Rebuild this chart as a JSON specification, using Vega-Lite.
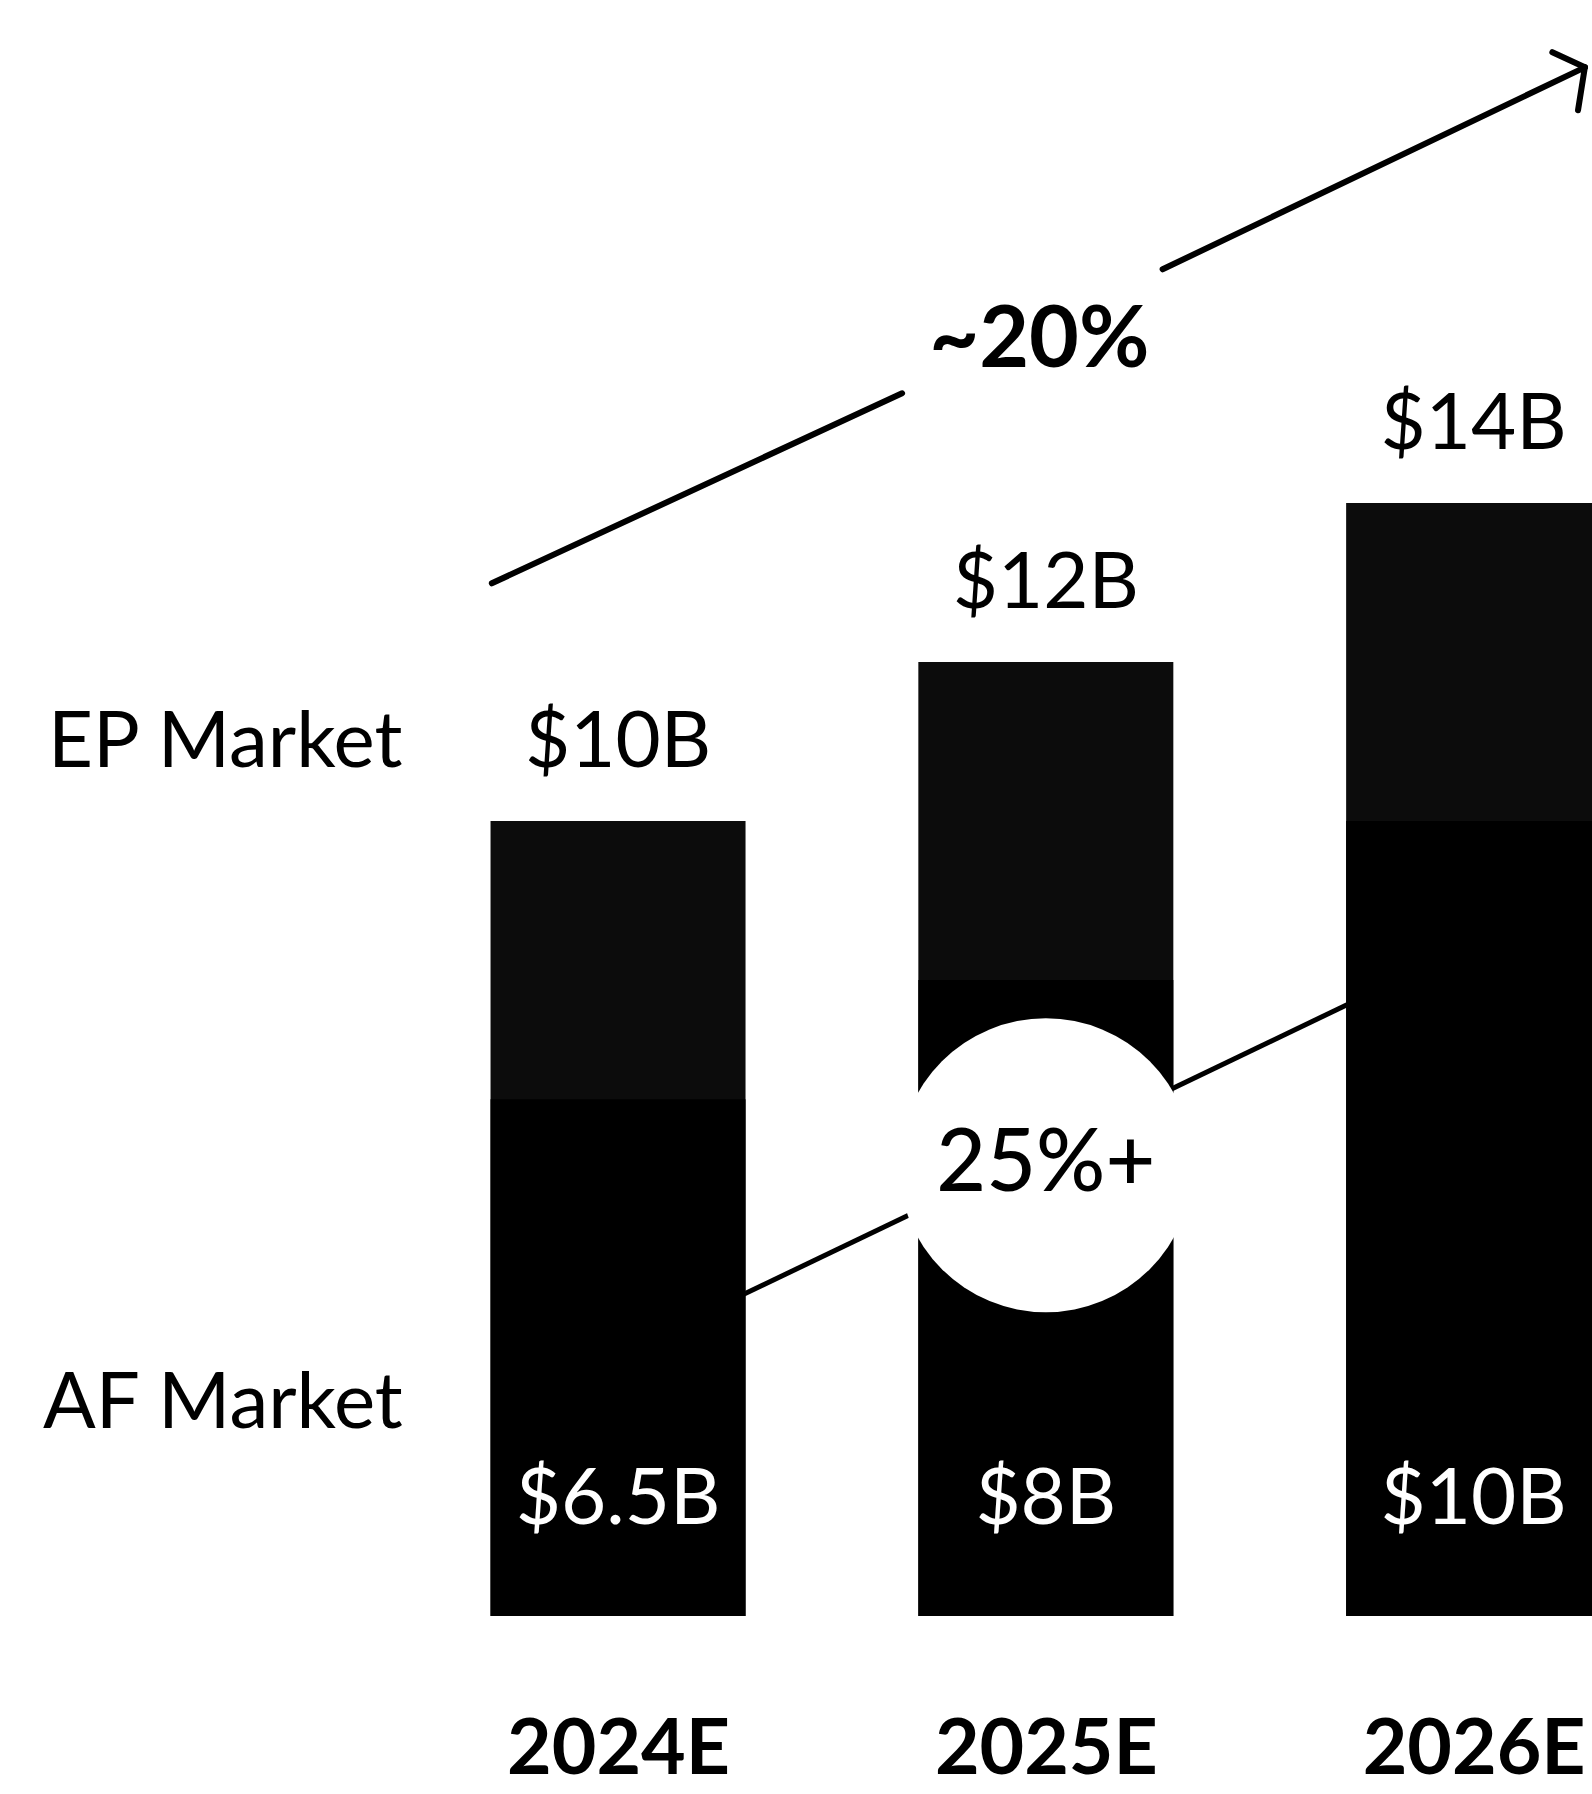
{
  "$schema": "https://vega.github.io/schema/vega-lite/v6.json",
  "width": 1592,
  "height": 1616,
  "autosize": {"type": "none"},
  "padding": {"left": 0, "top": 0, "right": 0, "bottom": 178},
  "background": "white",
  "config": {
    "font": "Lato",
    "view": {"stroke": null},
    "axis": {"grid": false, "domain": false, "ticks": false, "title": null}
  },
  "datasets": {
    "markets": [
      {"year": 2024, "ep": 10, "af": 6.5, "epLabel": "$10B", "afLabel": "$6.5B"},
      {"year": 2025, "ep": 12, "af": 8, "epLabel": "$12B", "afLabel": "$8B"},
      {"year": 2026, "ep": 14, "af": 10, "epLabel": "$14B", "afLabel": "$10B"}
    ],
    "epGrowth": [
      {"part": "line", "x": 2023.705, "y": 12.99, "x2": 2024.664, "y2": 15.38},
      {"part": "line", "x": 2025.273, "y": 16.94, "x2": 2026.26, "y2": 19.48},
      {"part": "arrowhead", "x": 2026.184, "y": 19.67, "x2": 2026.26, "y2": 19.48},
      {"part": "arrowhead", "x": 2026.244, "y": 18.94, "x2": 2026.26, "y2": 19.48}
    ],
    "afGrowth": [
      {"x": 2024, "y": 3.288, "x2": 2026, "y2": 8.453}
    ],
    "growthLabels": [
      {"market": "EP", "text": "~20%", "x": 2024.985, "y": 16.04},
      {"market": "AF", "text": "25%+", "x": 2025, "y": 5.67}
    ]
  },
  "layer": [
    {
      "data": {"name": "afGrowth"},
      "mark": {"type": "rule", "color": "#000", "strokeWidth": 5},
      "encoding": {
        "x": {"field": "x", "type": "quantitative", "scale": {"domain": [2022.567, 2026.265], "nice": false, "zero": false}},
        "x2": {"field": "x2"},
        "y": {"field": "y", "type": "quantitative", "scale": {"domain": [0, 20.327], "nice": false, "zero": false}, "axis": null},
        "y2": {"field": "y2"}
      }
    },
    {
      "data": {"name": "markets"},
      "mark": {"type": "bar", "width": 255, "color": "#0c0c0c", "clip": true},
      "encoding": {
        "x": {"field": "year", "type": "quantitative", "scale": {"domain": [2022.567, 2026.265], "nice": false, "zero": false},
          "axis": {"values": [2024, 2025, 2026], "format": "d", "labelExpr": "datum.label + 'E'", "labelFontSize": 77, "labelFontWeight": "bold", "labelColor": "#000", "labelPadding": 157, "labelBaseline": "alphabetic", "labelLimit": 0, "labelFlush": false, "labelOverlap": false, "title": null}},
        "y": {"field": "ep", "type": "quantitative", "scale": {"domain": [0, 20.327], "nice": false, "zero": false}, "axis": null}
      }
    },
    {
      "data": {"name": "markets"},
      "mark": {"type": "bar", "width": 255, "color": "#000", "clip": true},
      "encoding": {
        "x": {"field": "year", "type": "quantitative"},
        "y": {"field": "af", "type": "quantitative", "axis": null}
      }
    },
    {
      "data": {"name": "growthLabels"},
      "transform": [{"filter": "datum.market == 'AF'"}],
      "mark": {"type": "point", "shape": "circle", "filled": true, "color": "#fff", "opacity": 1, "size": 86400},
      "encoding": {
        "x": {"field": "x", "type": "quantitative"},
        "y": {"field": "y", "type": "quantitative", "axis": null}
      }
    },
    {
      "data": {"name": "growthLabels"},
      "transform": [{"filter": "datum.market == 'AF'"}],
      "mark": {"type": "text", "align": "center", "baseline": "middle", "fontSize": 86, "fontWeight": 500, "color": "#000"},
      "encoding": {
        "x": {"field": "x", "type": "quantitative"},
        "y": {"field": "y", "type": "quantitative", "axis": null},
        "text": {"field": "text"}
      }
    },
    {
      "data": {"name": "epGrowth"},
      "mark": {"type": "rule", "color": "#000", "strokeWidth": 6, "strokeCap": "round"},
      "encoding": {
        "x": {"field": "x", "type": "quantitative"},
        "x2": {"field": "x2"},
        "y": {"field": "y", "type": "quantitative", "axis": null},
        "y2": {"field": "y2"}
      }
    },
    {
      "data": {"name": "growthLabels"},
      "transform": [{"filter": "datum.market == 'EP'"}],
      "mark": {"type": "text", "align": "center", "baseline": "middle", "fontSize": 86, "fontWeight": "bold", "color": "#000"},
      "encoding": {
        "x": {"field": "x", "type": "quantitative"},
        "y": {"field": "y", "type": "quantitative", "axis": null},
        "text": {"field": "text"}
      }
    },
    {
      "data": {"name": "markets"},
      "mark": {"type": "text", "align": "center", "baseline": "alphabetic", "dy": -54, "fontSize": 78, "color": "#000"},
      "encoding": {
        "x": {"field": "year", "type": "quantitative"},
        "y": {"field": "ep", "type": "quantitative", "axis": null},
        "text": {"field": "epLabel"}
      }
    },
    {
      "data": {"name": "markets"},
      "mark": {"type": "text", "align": "center", "baseline": "alphabetic", "dy": -92, "fontSize": 78, "color": "#fff"},
      "encoding": {
        "x": {"field": "year", "type": "quantitative"},
        "y": {"datum": 0, "type": "quantitative", "axis": null},
        "text": {"field": "afLabel"}
      }
    },
    {
      "data": {"name": "markets"},
      "transform": [{"filter": "datum.year == 2024"}],
      "mark": {"type": "text", "align": "left", "baseline": "alphabetic", "dx": -570, "dy": -54, "fontSize": 78, "color": "#000", "text": "EP Market"},
      "encoding": {
        "x": {"field": "year", "type": "quantitative"},
        "y": {"field": "ep", "type": "quantitative", "axis": null}
      }
    },
    {
      "data": {"name": "markets"},
      "transform": [{"filter": "datum.year == 2024"}],
      "mark": {"type": "text", "align": "left", "baseline": "alphabetic", "dx": -575, "dy": -188, "fontSize": 78, "color": "#000", "text": "AF Market"},
      "encoding": {
        "x": {"field": "year", "type": "quantitative"},
        "y": {"datum": 0, "type": "quantitative", "axis": null}
      }
    }
  ]
}
